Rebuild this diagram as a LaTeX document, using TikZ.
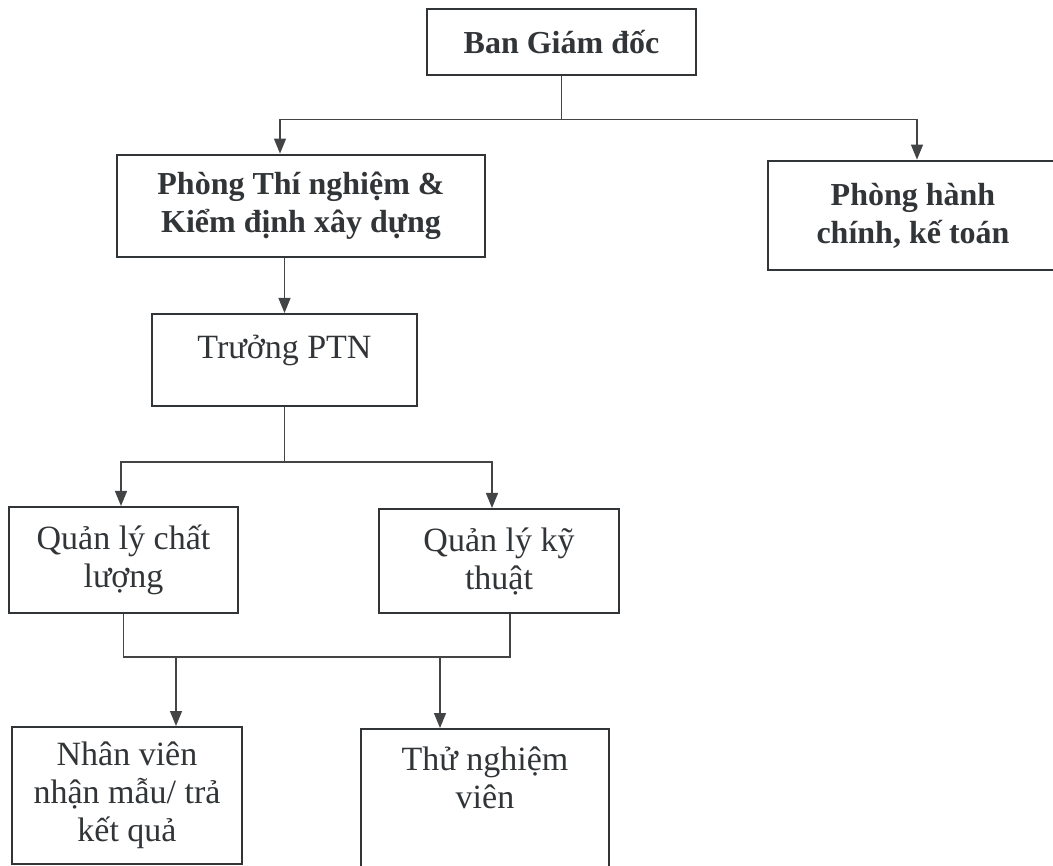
\documentclass[tikz,border=0pt]{standalone}
\usepackage{fontspec}
\setmainfont{Liberation Serif}
\usepackage{tikz}
\usetikzlibrary{calc}
\usetikzlibrary{arrows.meta}
\definecolor{inkgray}{RGB}{50, 53, 56}
\definecolor{linegray}{RGB}{66, 68, 70}

\tikzset{
  unit/.style={draw=inkgray, text=inkgray, fill=white, line width=2pt, inner sep=0pt,
               align=center, font=\fontsize{34}{38}\selectfont},
  dept/.style={unit, line width=2.8pt, font=\fontsize{32}{38}\selectfont\bfseries},
  link/.style={draw=linegray, line width=1.3pt},
  arrow/.style={link, -{Triangle[width=12pt,length=15pt]}},
}

\begin{document}
\begin{tikzpicture}[x=1pt, y=-1pt]
  \useasboundingbox (0,0) rectangle (1053,866);
  % top level
  \node[dept, minimum width=269pt, minimum height=66pt]  (bgd)  at (561.5, 42)  {Ban Giám đốc};
  \node[dept, minimum width=368pt, minimum height=102pt] (ptn)  at (301, 206)   {Phòng Thí nghiệm \&\\Kiểm định xây dựng};
  \node[dept, minimum width=290pt, minimum height=109pt] (hc)   at (913, 215.5) {Phòng hành\\chính, kế toán};
  % laboratory
  \node[unit, minimum width=265pt, minimum height=92pt]  (tp)   at (284.5, 360) {Trưởng PTN\\[-12pt]\mbox{}};
  \node[unit, minimum width=229pt, minimum height=106pt] (qlcl) at (123.5, 560) {Quản lý chất\\lượng};
  \node[unit, minimum width=240pt, minimum height=104pt] (qlkt) at (499, 561)   {Quản lý kỹ\\thuật};
  \node[unit, minimum width=230pt, minimum height=137pt] (nv)   at (127, 795.5) {Nhân viên\\nhận mẫu/ trả\\kết quả};
  \node[unit, minimum width=248pt, minimum height=142pt] (tn)   at (485, 800)   {Thử nghiệm\\viên\\[6pt]\mbox{}};

  % connectors
  \draw[link] (bgd.south) -- ++(0,43) coordinate (bus1);
  \draw[arrow] (bus1) -| ([xshift=-21pt]ptn.north);
  \draw[arrow] (bus1) -| ([xshift=4pt]hc.north);
  \draw[arrow] (tp.north |- ptn.south) -- (tp.north);
  \draw[link] (tp.south) -- ++(0,55) coordinate (bus2);
  \draw[arrow] (bus2) -| ([xshift=-2.5pt]qlcl.north);
  \draw[arrow] (bus2) -| ([xshift=-7pt]qlkt.north);
  \draw[link] (qlcl.south) -- ++(0,43) coordinate (bus3) -| ([xshift=11pt]qlkt.south);
  \coordinate (nvin) at ([xshift=49pt]nv.north);
  \coordinate (tnin) at ([xshift=-45pt]tn.north);
  \draw[arrow] (nvin |- bus3) -- (nvin);
  \draw[arrow] (tnin |- bus3) -- (tnin);
\end{tikzpicture}
\end{document}
